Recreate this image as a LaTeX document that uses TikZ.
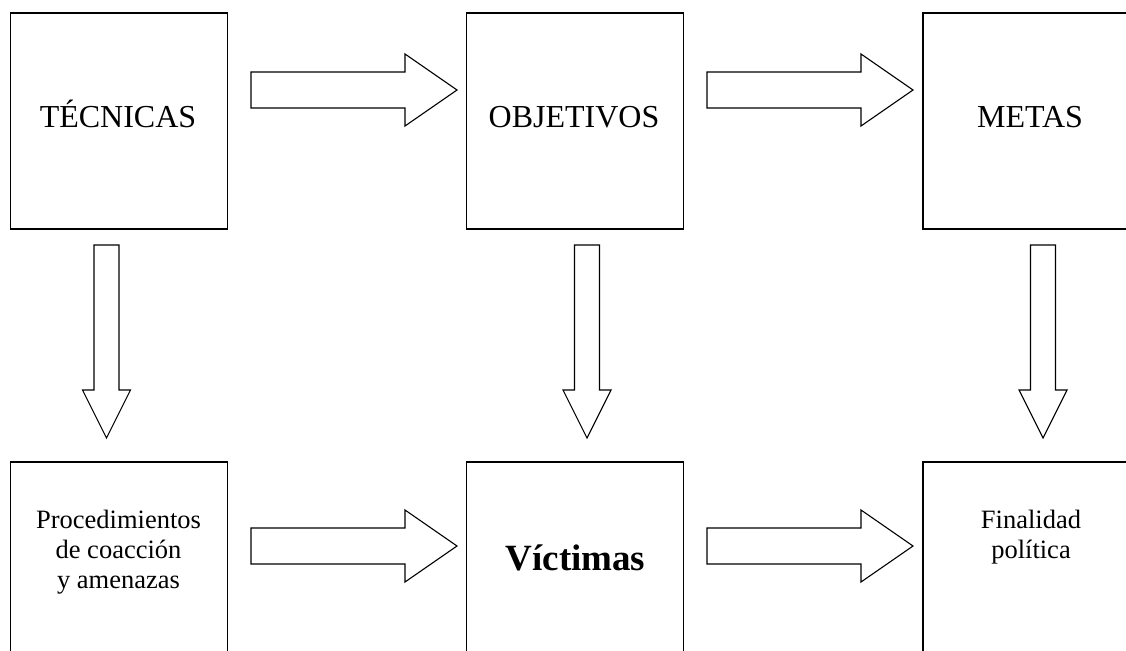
\documentclass[tikz,border=0pt]{standalone}
\usepackage{fontspec}
\setmainfont{Liberation Serif}
\begin{document}
\begin{tikzpicture}[x=1pt,y=-1pt,
  box/.style={draw=black,line width=1.1pt,minimum width=217pt,minimum height=216pt,inner sep=0pt},
  big/.style={font=\fontsize{32}{38}\selectfont,anchor=base,inner sep=0pt},
  small/.style={font=\fontsize{26.5}{30}\selectfont,anchor=base,inner sep=0pt},
  bold/.style={font=\fontsize{37}{44}\selectfont\bfseries,anchor=base,inner sep=0pt},
  harrow/.pic={\draw[line width=1.1pt,fill=white,line join=miter]
     (0,-18) -- (154,-18) -- (154,-36) -- (206,0) -- (154,36) -- (154,18) -- (0,18) -- cycle;},
  varrow/.pic={\draw[line width=1.1pt,fill=white,line join=miter]
     (-12.5,0) -- (12.5,0) -- (12.5,145) -- (24,145) -- (0,193) -- (-24,145) -- (-12.5,145) -- cycle;}
]
\useasboundingbox[fill=white] (0,0) rectangle (1126,650);
\begin{scope}
\clip (0,0) rectangle (1126,650);
% boxes
\node[box] (tec) at (119,121) {};
\node[box] (obj) at (575,121) {};
\node[box] (met) at (1031.5,121) {};
\node[box] (pro) at (119,570) {};
\node[box] (vic) at (575,570) {};
\node[box] (fin) at (1031.5,570) {};
% labels
\node[big] (tecl) at (118,128) {TÉCNICAS};
\node[big] (objl) at (574,128) {OBJETIVOS};
\node[big] (metl) at (1030,128) {METAS};
\node[small] (pro1) at (118.5,528) {Procedimientos};
\node[small] (pro2) at (118.5,558) {de coacción};
\node[small] (pro3) at (118.5,588) {y amenazas};
\node[bold] (vicl) at (575.5,570) {Víctimas};
\node[small] (fin1) at (1031,528) {Finalidad};
\node[small] (fin2) at (1031,558) {política};
% block arrows
\pic at (251,90) {harrow};
\pic at (707,90) {harrow};
\pic at (251,546) {harrow};
\pic at (707,546) {harrow};
\pic at (106.5,245) {varrow};
\pic at (587,245) {varrow};
\pic at (1043,245) {varrow};
\end{scope}
\end{tikzpicture}
\end{document}
